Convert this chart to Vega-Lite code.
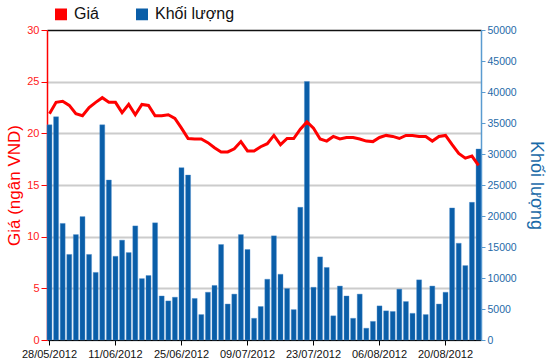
{
  "$schema": "https://vega.github.io/schema/vega-lite/v6.json",
  "width": 434,
  "height": 310,
  "autosize": {"type": "none"},
  "padding": {"left": 47, "top": 30, "right": 69, "bottom": 24},
  "background": "#ffffff",
  "config": {
    "view": {"stroke": null},
    "font": "Liberation Sans",
    "axis": {"labelFont": "Liberation Sans", "titleFont": "Liberation Sans"}
  },
  "data": {
    "values": [
      {"date": "28/05/2012", "vol": 34700, "price": 21.9},
      {"date": "29/05/2012", "vol": 36000, "price": 23.0},
      {"date": "30/05/2012", "vol": 18800, "price": 23.1},
      {"date": "31/05/2012", "vol": 13800, "price": 22.7},
      {"date": "01/06/2012", "vol": 17000, "price": 21.9},
      {"date": "04/06/2012", "vol": 19900, "price": 21.7},
      {"date": "05/06/2012", "vol": 13800, "price": 22.5},
      {"date": "06/06/2012", "vol": 10900, "price": 23.0},
      {"date": "07/06/2012", "vol": 34700, "price": 23.45},
      {"date": "08/06/2012", "vol": 25800, "price": 23.0},
      {"date": "11/06/2012", "vol": 13500, "price": 23.0},
      {"date": "12/06/2012", "vol": 16100, "price": 22.0},
      {"date": "13/06/2012", "vol": 14100, "price": 22.8},
      {"date": "14/06/2012", "vol": 18400, "price": 21.8},
      {"date": "15/06/2012", "vol": 9900, "price": 22.8},
      {"date": "18/06/2012", "vol": 10400, "price": 22.7},
      {"date": "19/06/2012", "vol": 18900, "price": 21.7},
      {"date": "20/06/2012", "vol": 7100, "price": 21.7},
      {"date": "21/06/2012", "vol": 6300, "price": 21.8},
      {"date": "22/06/2012", "vol": 6900, "price": 21.45},
      {"date": "25/06/2012", "vol": 27800, "price": 20.5},
      {"date": "26/06/2012", "vol": 26600, "price": 19.5},
      {"date": "27/06/2012", "vol": 6700, "price": 19.45},
      {"date": "28/06/2012", "vol": 4100, "price": 19.45},
      {"date": "29/06/2012", "vol": 7700, "price": 19.1},
      {"date": "02/07/2012", "vol": 8800, "price": 18.6},
      {"date": "03/07/2012", "vol": 15400, "price": 18.2},
      {"date": "04/07/2012", "vol": 5800, "price": 18.2},
      {"date": "05/07/2012", "vol": 7400, "price": 18.5},
      {"date": "06/07/2012", "vol": 17000, "price": 19.2},
      {"date": "09/07/2012", "vol": 14600, "price": 18.3},
      {"date": "10/07/2012", "vol": 3500, "price": 18.3},
      {"date": "11/07/2012", "vol": 5400, "price": 18.7},
      {"date": "12/07/2012", "vol": 9800, "price": 19.0},
      {"date": "13/07/2012", "vol": 16800, "price": 19.8},
      {"date": "16/07/2012", "vol": 10600, "price": 18.9},
      {"date": "17/07/2012", "vol": 8300, "price": 19.5},
      {"date": "18/07/2012", "vol": 4900, "price": 19.5},
      {"date": "19/07/2012", "vol": 21400, "price": 20.4},
      {"date": "20/07/2012", "vol": 41700, "price": 21.1},
      {"date": "23/07/2012", "vol": 8500, "price": 20.5},
      {"date": "24/07/2012", "vol": 13400, "price": 19.45},
      {"date": "25/07/2012", "vol": 11700, "price": 19.25},
      {"date": "26/07/2012", "vol": 3900, "price": 19.7},
      {"date": "27/07/2012", "vol": 8700, "price": 19.45},
      {"date": "30/07/2012", "vol": 7100, "price": 19.6},
      {"date": "31/07/2012", "vol": 3500, "price": 19.6},
      {"date": "01/08/2012", "vol": 7400, "price": 19.45},
      {"date": "02/08/2012", "vol": 1900, "price": 19.25},
      {"date": "03/08/2012", "vol": 3000, "price": 19.2},
      {"date": "06/08/2012", "vol": 5500, "price": 19.6},
      {"date": "07/08/2012", "vol": 4700, "price": 19.8},
      {"date": "08/08/2012", "vol": 4600, "price": 19.7},
      {"date": "09/08/2012", "vol": 8200, "price": 19.5},
      {"date": "10/08/2012", "vol": 6200, "price": 19.8},
      {"date": "13/08/2012", "vol": 4300, "price": 19.8},
      {"date": "14/08/2012", "vol": 9700, "price": 19.7},
      {"date": "15/08/2012", "vol": 4100, "price": 19.7},
      {"date": "16/08/2012", "vol": 8700, "price": 19.25},
      {"date": "17/08/2012", "vol": 5800, "price": 19.7},
      {"date": "20/08/2012", "vol": 7700, "price": 19.8},
      {"date": "21/08/2012", "vol": 21300, "price": 18.9},
      {"date": "22/08/2012", "vol": 15600, "price": 18.05},
      {"date": "23/08/2012", "vol": 12000, "price": 17.6},
      {"date": "24/08/2012", "vol": 22200, "price": 17.8},
      {"date": "27/08/2012", "vol": 30800, "price": 16.9}
    ]
  },
  "encoding": {
    "x": {
      "field": "date",
      "type": "ordinal",
      "sort": null,
      "scale": {"paddingInner": 0.25, "paddingOuter": 0},
      "axis": {
        "title": null,
        "values": ["28/05/2012", "11/06/2012", "25/06/2012", "09/07/2012", "23/07/2012", "06/08/2012", "20/08/2012"],
        "labelAngle": 0,
        "labelFontSize": 11,
        "labelColor": "#111111",
        "labelPadding": 3,
        "domainColor": "#000000",
        "tickColor": "#000000",
        "tickSize": 5,
        "grid": false
      }
    }
  },
  "layer": [
    {
      "mark": {"type": "bar", "fill": "#0a5ea8", "stroke": "#4a8ccc", "strokeWidth": 0.4},
      "encoding": {
        "y": {
          "field": "vol",
          "type": "quantitative",
          "scale": {"domain": [0, 50000], "nice": false},
          "axis": {
            "orient": "right",
            "title": "Khối lượng",
            "titleColor": "#1a6aa8",
            "titleFontSize": 18,
            "titleFontWeight": "normal",
            "titlePadding": 10,
            "values": [0, 5000, 10000, 15000, 20000, 25000, 30000, 35000, 40000, 45000, 50000],
            "format": "d",
            "labelColor": "#1f6aa8",
            "labelFontSize": 10.5,
            "labelPadding": 2,
            "domainColor": "#5a9bd0",
            "domainWidth": 1.5,
            "tickColor": "#5a9bd0",
            "tickSize": 4,
            "grid": false
          }
        },
        "color": {
          "datum": "Khối lượng",
          "scale": {"domain": ["Giá", "Khối lượng"], "range": ["#ff0000", "#0a5ea8"]},
          "legend": {
            "title": null,
            "orient": "none",
            "legendX": 6,
            "legendY": -24,
            "direction": "horizontal",
            "symbolType": "square",
            "symbolSize": 110,
            "labelFontSize": 16,
            "labelColor": "#111111",
            "labelFont": "Liberation Sans",
            "columnPadding": 34,
            "labelOffset": 5,
            "encode": {
              "symbols": {
                "update": {
                  "fill": {"scale": "color", "field": "value"},
                  "stroke": {"value": "#333333"},
                  "strokeWidth": {"value": 1},
                  "opacity": {"value": 1}
                }
              }
            }
          }
        }
      }
    },
    {
      "mark": {"type": "line", "color": "#ff0000", "strokeWidth": 3, "interpolate": "linear"},
      "encoding": {
        "y": {
          "field": "price",
          "type": "quantitative",
          "scale": {"domain": [0, 30], "nice": false},
          "axis": {
            "orient": "left",
            "title": "Giá (ngân VND)",
            "titleColor": "#ff0000",
            "titleFontSize": 17,
            "titleFontWeight": "normal",
            "titlePadding": 3,
            "values": [0, 5, 10, 15, 20, 25, 30],
            "labelColor": "#ff2020",
            "labelFontSize": 11,
            "labelPadding": 2,
            "domainColor": "#ff0000",
            "domainWidth": 1.5,
            "tickColor": "#ff0000",
            "tickSize": 6,
            "grid": true,
            "gridColor": {"condition": {"test": "datum.value === 30", "value": "#111111"}, "value": "#cccccc"},
            "gridWidth": {"condition": {"test": "datum.value === 30", "value": 1.5}, "value": 2}
          }
        },
        "color": {"datum": "Giá"}
      }
    }
  ],
  "resolve": {"scale": {"y": "independent"}}
}
